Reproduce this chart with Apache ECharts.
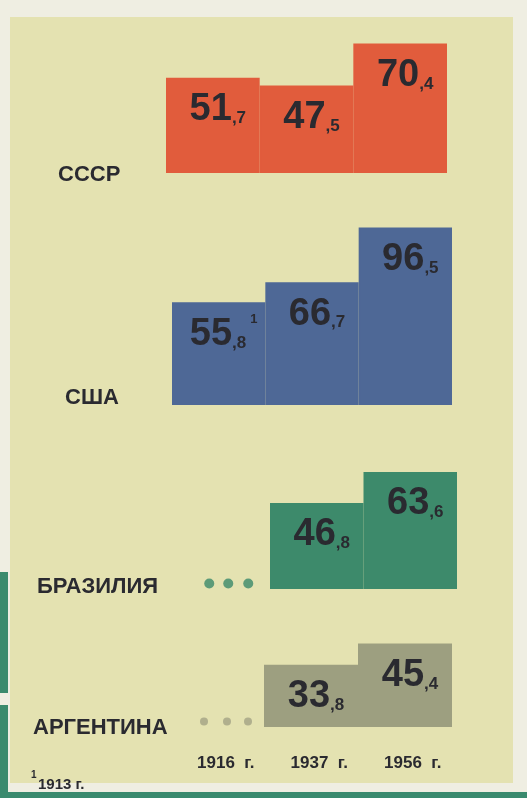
<!DOCTYPE html>
<html>
<head>
<meta charset="utf-8">
<script src="https://cdn.jsdelivr.net/npm/echarts@6/dist/echarts.min.js"></script>
<style>
html,body{margin:0;padding:0;background:#efeee2;}
#chart{width:527px;height:798px;}
</style>
</head>
<body>
<div id="chart"></div>
<script>
// ---- data ----
const years = ['1916 г.', '1937 г.', '1956 г.'];
const countries = ['СССР', 'США', 'БРАЗИЛИЯ', 'АРГЕНТИНА'];
const ussr = [51.7, 47.5, 70.4];
const usa = [55.8, 66.7, 96.5];
const brazil = ['-', 46.8, 63.6];
const argentina = ['-', 33.8, 45.4];
const usaNotes = ['1', '', ''];
const footnote = '1913 г.';
const noDataMark = 3; // height of the "no data" dots row

// ---- style ----
const FONT = '"Liberation Sans", Arial, sans-serif';
const INK = '#2a2a30';
const colors = ['#e15c3c', '#4e6896', '#3d8a6b', '#9d9f80'];
const dotColors = ['', '', '#3a8a6a', '#a3a385'];
const K = 1.84; // px per unit, shared by all panels

const panels = [
  {data: ussr, notes: null, left: 166, width: 281, bottom: 173, max: 80},
  {data: usa, notes: usaNotes, left: 172, width: 280, bottom: 405, max: 100},
  {data: brazil, notes: null, left: 176.5, width: 280.5, bottom: 589, max: 70},
  {data: argentina, notes: null, left: 170, width: 282, bottom: 727, max: 50}
];

const grids = [], xAxes = [], yAxes = [], series = [];
panels.forEach((p, i) => {
  const h = p.max * K;
  grids.push({left: p.left, width: p.width, top: p.bottom - h, height: h});
  xAxes.push({type: 'category', gridIndex: i, data: years, show: false});
  yAxes.push({type: 'value', gridIndex: i, min: 0, max: p.max, show: false});
  series.push({
    type: 'bar', xAxisIndex: i, yAxisIndex: i,
    data: p.data, barWidth: '100%', barCategoryGap: '0%',
    itemStyle: {color: colors[i], borderColor: colors[i], borderWidth: 2, borderJoin: 'miter'},
    silent: true,
    label: {
      show: true, position: 'insideTop', distance: 11, offset: [5, 0],
      formatter: (q) => {
        const v = q.value;
        if (v === '-' || v == null) return '';
        const parts = Number(v).toFixed(1).split('.');
        let s = '{a|' + parts[0] + '}{b|,' + parts[1] + '}';
        if (p.notes && p.notes[q.dataIndex]) s += '{s|' + p.notes[q.dataIndex] + '}';
        return s;
      },
      rich: {
        a: {fontFamily: FONT, fontWeight: 'bold', fontSize: 38, color: INK, verticalAlign: 'bottom', lineHeight: 40},
        b: {fontFamily: FONT, fontWeight: 'bold', fontSize: 17, color: INK, verticalAlign: 'bottom', lineHeight: 40, padding: [0, 0, 2, 0]},
        s: {fontFamily: FONT, fontWeight: 'bold', fontSize: 13, color: INK, verticalAlign: 'top', lineHeight: 40, padding: [0, 0, 0, 4]}
      }
    }
  });
  if (dotColors[i]) {
    const offs = i === 2 ? [-14, 5, 25] : [-13, 10, 31];
    series.push({
      type: 'scatter', xAxisIndex: i, yAxisIndex: i, silent: true,
      symbolSize: i === 2 ? 10 : 8,
      itemStyle: {color: dotColors[i]},
      data: offs.map(o => ({value: [years[0], noDataMark], symbolOffset: [o, 0]}))
    });
  }
});
// year labels row
grids.push({left: 179, width: 280.5, top: 748, height: 1});
xAxes.push({type: 'category', gridIndex: 4, data: years, axisLine: {show: false}, axisTick: {show: false},
  axisLabel: {margin: 6, fontFamily: FONT, fontWeight: 'bold', fontSize: 17, color: INK,
    formatter: (v) => v.replace(' ', '  ')}});
yAxes.push({type: 'value', gridIndex: 4, show: false});

const labelPos = [[58, 175], [65, 398], [37, 587], [33, 728]];
const graphics = [
  {type: 'rect', shape: {x: 10, y: 17, width: 503, height: 766}, style: {fill: '#e4e2b1'}, z: -10, silent: true},
  {type: 'rect', shape: {x: 0, y: 572, width: 8, height: 121}, style: {fill: '#3a8a6e'}, z: -10, silent: true},
  {type: 'rect', shape: {x: 0, y: 705, width: 8, height: 93}, style: {fill: '#3a8a6e'}, z: -10, silent: true},
  {type: 'rect', shape: {x: 0, y: 792, width: 527, height: 6}, style: {fill: '#3a8a6e'}, z: -10, silent: true}
];
countries.forEach((c, i) => {
  graphics.push({type: 'text', x: labelPos[i][0], y: labelPos[i][1], silent: true,
    style: {text: c, fill: INK, font: 'bold 22px ' + FONT, textVerticalAlign: 'middle'}});
});
graphics.push({type: 'text', x: 31, y: 775, silent: true,
  style: {text: '1', fill: INK, font: 'bold 10px ' + FONT, textVerticalAlign: 'middle'}});
graphics.push({type: 'text', x: 38, y: 785, silent: true,
  style: {text: footnote, fill: INK, font: 'bold 15px ' + FONT, textVerticalAlign: 'middle'}});

const chart = echarts.init(document.getElementById('chart'));
chart.setOption({
  backgroundColor: '#efeee2',
  animation: false,
  grid: grids, xAxis: xAxes, yAxis: yAxes, series: series,
  graphic: graphics
});
</script>
</body>
</html>
